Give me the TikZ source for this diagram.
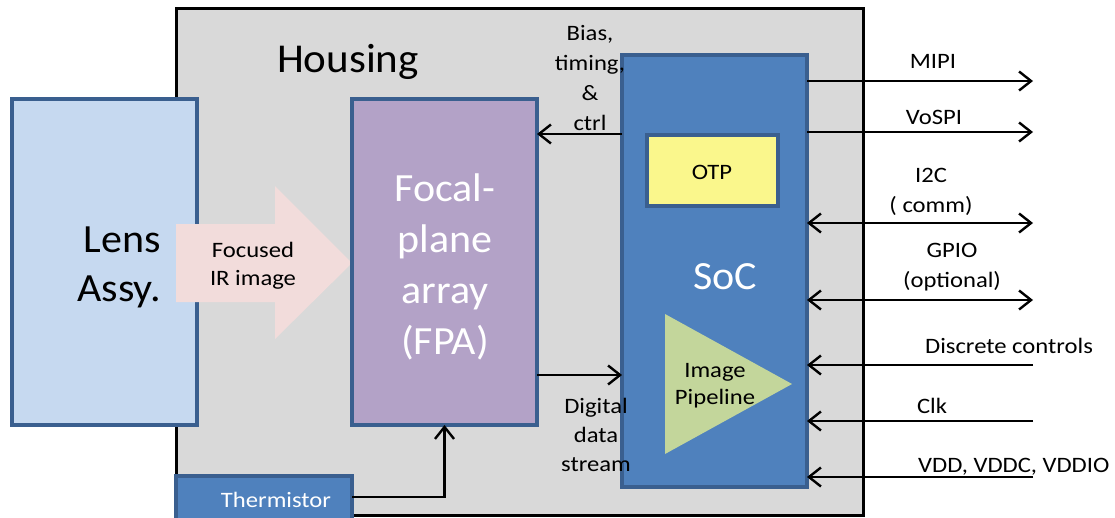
\documentclass[tikz,border=0pt]{standalone}
\usepackage{fontspec}
\setmainfont{Carlito}
\newfontfamily\smallf{Carlito}[FakeStretch=1.12]
\newfontfamily\bigf{Carlito}[FakeStretch=1.05]
\usetikzlibrary{arrows.meta}
\definecolor{housingfill}{HTML}{D9D9D9}
\definecolor{boxborder}{HTML}{3A5F8F}
\definecolor{lensfill}{HTML}{C6D9F0}
\definecolor{fpafill}{HTML}{B3A2C7}
\definecolor{socfill}{HTML}{4F81BD}
\definecolor{otpfill}{HTML}{FAF78C}
\definecolor{pipefill}{HTML}{C3D69B}
\definecolor{irfill}{HTML}{F2DCDB}
\tikzset{
  blk/.style={rectangle, draw=boxborder, line width=3.2pt, inner sep=0pt, outer sep=0pt},
  sig/.style={line width=2.4pt, -{Straight Barb[length=12pt,width=19pt,line width=2.4pt]}},
  sigb/.style={line width=2.4pt, {Straight Barb[length=12pt,width=19pt,line width=2.4pt]}-{Straight Barb[length=12pt,width=19pt,line width=2.4pt]}},
  lbl/.style={font=\smallf\fontsize{22}{30}\selectfont, align=center, inner sep=0pt},
  big/.style={font=\bigf\fontsize{40}{50}\selectfont, inner sep=0pt}
}
\begin{document}
\begin{tikzpicture}[x=1pt,y=-1pt]
\fill[white] (0,0) rectangle (1115,517);
\useasboundingbox (0,0) rectangle (1115,517);
% housing
\node[rectangle, draw=black, line width=3pt, fill=housingfill, minimum width=687pt, minimum height=507pt, inner sep=0pt] (housing) at (519.5,261.5) {};
\node[big, font=\bigf\fontsize{41}{50}\selectfont] (hlabel) at (348,62) {Housing};
% thermistor
\node[blk, fill=socfill, minimum width=176pt, minimum height=64pt] (therm) at (264,508) {};
\node[lbl, text=white] (thermlabel) at (276,500) {Thermistor};
% lens
\node[blk, fill=lensfill, minimum width=185pt, minimum height=326pt] (lens) at (104.5,262) {};
\node[big, align=right, anchor=east, font=\bigf\fontsize{40}{49}\selectfont] (lenslabel) at (161,267) {Lens\\Assy.};
% focused IR arrow
\fill[irfill] (176,224) -- (275,224) -- (275,186) -- (352,263) -- (275,339) -- (275,302) -- (176,302) -- cycle;
\node[lbl, font=\smallf\fontsize{22}{28}\selectfont] (irlabel) at (253,266) {Focused\\IR image};
% FPA
\node[blk, fill=fpafill, minimum width=185pt, minimum height=326pt] (fpa) at (444.5,262) {};
\node[big, text=white, align=center, font=\bigf\fontsize{40}{51}\selectfont] (fpalabel) at (445,267) {Focal-\\plane\\array\\(FPA)};
% SoC
\node[blk, fill=socfill, minimum width=185pt, minimum height=432pt] (soc) at (714.5,271) {};
\node[big] at (725,277) [text=white] (soclabel) {SoC};
\node[blk, fill=otpfill, minimum width=131pt, minimum height=71pt] (otp) at (712.5,170.5) {};
\node[lbl] (otplabel) at (712,172) {OTP};
\fill[pipefill] (665,314) -- (792,384) -- (665,454) -- cycle;
\node[lbl, font=\smallf\fontsize{22}{27}\selectfont] (pipelabel) at (715,386) {Image\\Pipeline};
% internal connectors
\draw[sig] (soc.west |- 0,134) -- (fpa.east |- 0,134);
\node[lbl] (biaslabel) at (590,78) {Bias,\\timing,\\\&\\ctrl};
\draw[sig] (fpa.east |- 0,375) -- (soc.west |- 0,375);
\node[lbl, font=\smallf\fontsize{22}{29}\selectfont] (digilabel) at (596,435) {Digital\\data\\stream};
\draw[sig] ([yshift=11pt]therm.east) -| (fpa.south);
% external signals
\coordinate (mipi) at (1033,81);
\coordinate (vospi) at (1033,132);
\coordinate (itwoc) at (1033,223);
\coordinate (gpio) at (1033,300);
\coordinate (disc) at (1033,365);
\coordinate (clk) at (1033,421);
\coordinate (vdd) at (1033,477);
\draw[sig] (soc.east |- mipi) -- (mipi);
\draw[sig] (soc.east |- vospi) -- (vospi);
\draw[sigb] (soc.east |- itwoc) -- (itwoc);
\draw[sigb] (soc.east |- gpio) -- (gpio);
\draw[sig] (disc) -- (soc.east |- disc);
\draw[sig] (clk) -- (soc.east |- clk);
\draw[sig] (vdd) -- (soc.east |- vdd);
\node[lbl] (mipilabel) at (933,61) {MIPI};
\node[lbl] (vospilabel) at (934,117) {VoSPI};
\node[lbl] (itwoclabel) at (931,192) {I2C\\( comm)};
\node[lbl] (gpiolabel) at (952,267) {GPIO\\(optional)};
\node[lbl] (disclabel) at (1009,346) {Discrete controls};
\node[lbl] (clklabel) at (932,406) {Clk};
\node[lbl, anchor=west] (vddlabel) at (918,467) {VDD, VDDC, VDDIO};
\end{tikzpicture}
\end{document}
